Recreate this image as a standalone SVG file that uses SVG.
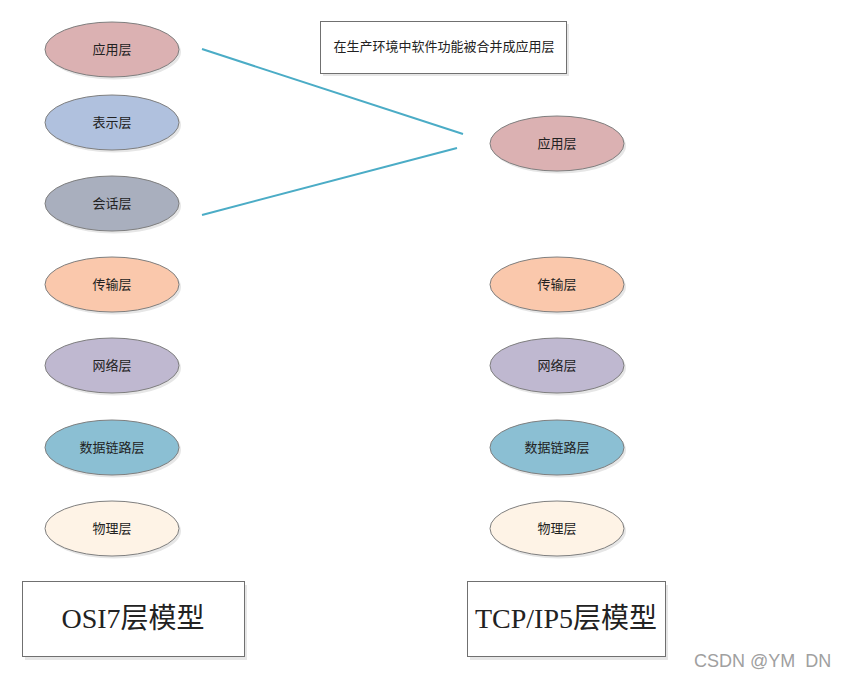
<svg xmlns="http://www.w3.org/2000/svg" width="845" height="676" viewBox="0 0 845 676">
<style>
.n{stroke:#7f7f7f;stroke-width:1}
.sh{fill:#e6e6e6}
.t{font-family:"Noto Sans CJK SC","Liberation Sans",sans-serif;font-size:13px;fill:#222;text-anchor:middle}
.box{fill:#fff;stroke:#707070;stroke-width:1}
.big{font-family:"Liberation Serif","Noto Sans CJK SC",serif;font-size:28px;fill:#222;text-anchor:middle}
.c{stroke:#4bacc6;stroke-width:2;fill:none}
</style>
<rect width="845" height="676" fill="#fff"/>
<g id="connectors">
<line class="c" x1="202" y1="49" x2="463" y2="134"/>
<line class="c" x1="202" y1="215" x2="457" y2="148"/>
</g>
<g id="note">
<rect class="sh" x="323" y="24" width="246" height="52"/>
<rect class="box" x="320.5" y="21.5" width="246" height="52"/>
<text class="t" x="444" y="51">在生产环境中软件功能被合并成应用层</text>
</g>
<g id="osi-app"><ellipse class="sh" cx="114" cy="52" rx="67" ry="27.5"/><ellipse class="n" cx="112" cy="49.5" rx="67" ry="27.5" fill="#dbb1b2"/><text class="t" x="112" y="54">应用层</text></g>
<g id="osi-pres"><ellipse class="sh" cx="114" cy="125" rx="67" ry="27.5"/><ellipse class="n" cx="112" cy="122.5" rx="67" ry="27.5" fill="#b0c1de"/><text class="t" x="112" y="127">表示层</text></g>
<g id="osi-sess"><ellipse class="sh" cx="114" cy="206" rx="67" ry="27.5"/><ellipse class="n" cx="112" cy="203.5" rx="67" ry="27.5" fill="#a9afbe"/><text class="t" x="112" y="208">会话层</text></g>
<g id="osi-trans"><ellipse class="sh" cx="114" cy="287" rx="67" ry="27.5"/><ellipse class="n" cx="112" cy="284.5" rx="67" ry="27.5" fill="#fac8ac"/><text class="t" x="112" y="289">传输层</text></g>
<g id="osi-net"><ellipse class="sh" cx="114" cy="368" rx="67" ry="27.5"/><ellipse class="n" cx="112" cy="365.5" rx="67" ry="27.5" fill="#bfb8d0"/><text class="t" x="112" y="370">网络层</text></g>
<g id="osi-link"><ellipse class="sh" cx="114" cy="450" rx="67" ry="27.5"/><ellipse class="n" cx="112" cy="447.5" rx="67" ry="27.5" fill="#8bbfd3"/><text class="t" x="112" y="452">数据链路层</text></g>
<g id="osi-phy"><ellipse class="sh" cx="114" cy="531" rx="67" ry="27.5"/><ellipse class="n" cx="112" cy="528.5" rx="67" ry="27.5" fill="#fef3e6"/><text class="t" x="112" y="533">物理层</text></g>
<g id="tcp-app"><ellipse class="sh" cx="559" cy="146" rx="67" ry="27.5"/><ellipse class="n" cx="557" cy="143.5" rx="67" ry="27.5" fill="#dbb1b2"/><text class="t" x="557" y="148">应用层</text></g>
<g id="tcp-trans"><ellipse class="sh" cx="559" cy="287" rx="67" ry="27.5"/><ellipse class="n" cx="557" cy="284.5" rx="67" ry="27.5" fill="#fac8ac"/><text class="t" x="557" y="289">传输层</text></g>
<g id="tcp-net"><ellipse class="sh" cx="559" cy="368" rx="67" ry="27.5"/><ellipse class="n" cx="557" cy="365.5" rx="67" ry="27.5" fill="#bfb8d0"/><text class="t" x="557" y="370">网络层</text></g>
<g id="tcp-link"><ellipse class="sh" cx="559" cy="450" rx="67" ry="27.5"/><ellipse class="n" cx="557" cy="447.5" rx="67" ry="27.5" fill="#8bbfd3"/><text class="t" x="557" y="452">数据链路层</text></g>
<g id="tcp-phy"><ellipse class="sh" cx="559" cy="531" rx="67" ry="27.5"/><ellipse class="n" cx="557" cy="528.5" rx="67" ry="27.5" fill="#fef3e6"/><text class="t" x="557" y="533">物理层</text></g>
<g id="osi-title">
<rect class="sh" x="25" y="585" width="222" height="75"/>
<rect class="box" x="22.5" y="581.5" width="222" height="75"/>
<text class="big" x="133" y="628">OSI7层模型</text>
</g>
<g id="tcp-title">
<rect class="sh" x="470" y="585" width="198" height="75"/>
<rect class="box" x="467.5" y="581.5" width="198" height="75"/>
<text class="big" x="566" y="628">TCP/IP5层模型</text>
</g>
<text x="694" y="667" xml:space="preserve" font-family="Liberation Sans, Arial, sans-serif" font-size="18" fill="#a0a0a0">CSDN @YM  DN</text>
</svg>
